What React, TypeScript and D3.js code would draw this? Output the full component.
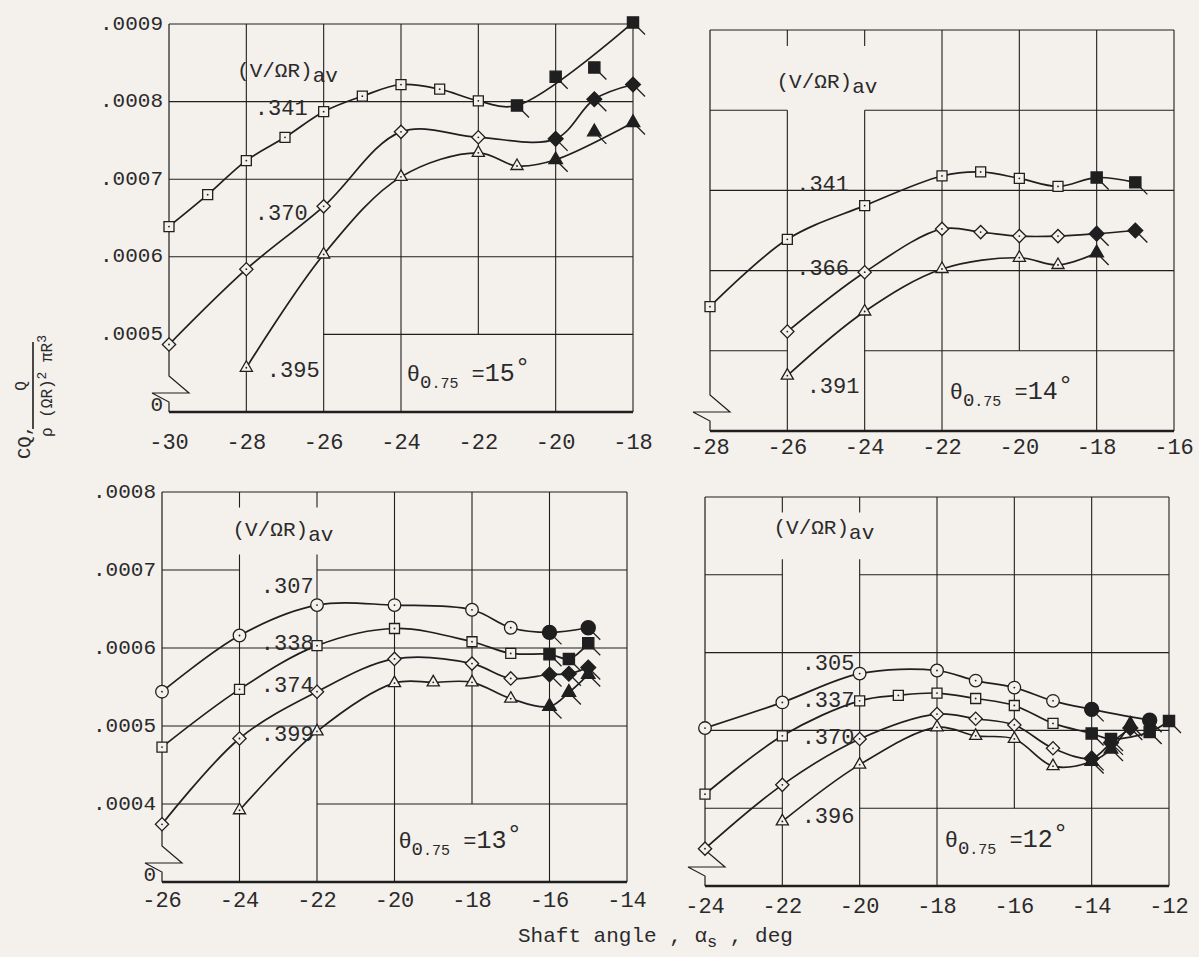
import React from 'react';
import * as d3 from 'd3';

type Pt = [number, number];

const FONT = "'Liberation Mono', 'DejaVu Sans Mono', monospace";
const BG = '#f4f0ec';
const INK = '#1f1f1f';
const TEXT = '#2a2a2a';

// ---------------- tick values / labels ----------------
const X_TICKS_15 = [-30, -28, -26, -24, -22, -20, -18];
const X_TICKS_14 = [-28, -26, -24, -22, -20, -18, -16];
const X_TICKS_13 = [-26, -24, -22, -20, -18, -16, -14];
const X_TICKS_12 = [-24, -22, -20, -18, -16, -14, -12];

const Y_TICKS_TOP = [0.0004, 0.0005, 0.0006, 0.0007, 0.0008, 0.0009];
const Y_LABELS_TOP = ['0', '.0005', '.0006', '.0007', '.0008', '.0009'];
const Y_TICKS_BOTTOM = [0.0003, 0.0004, 0.0005, 0.0006, 0.0007, 0.0008];
const Y_LABELS_BOTTOM = ['0', '.0004', '.0005', '.0006', '.0007', '.0008'];

// ---------------- data: theta 0.75 = 15 deg ----------------
const T15_V341: Pt[] = [[-30, 0.000639], [-29, 0.00068], [-28, 0.000724], [-27, 0.000754], [-26, 0.000787], [-25, 0.000807], [-24, 0.000822], [-23, 0.000816], [-22, 0.000801], [-21, 0.000795], [-20, 0.000832], [-19, 0.000844], [-18, 0.000902]];
const T15_V370: Pt[] = [[-30, 0.000487], [-28, 0.000584], [-26, 0.000665], [-24, 0.000761], [-22, 0.000754], [-20, 0.000752], [-19, 0.000803], [-18, 0.000822]];
const T15_V395: Pt[] = [[-28, 0.000457], [-26, 0.000603], [-24, 0.000703], [-22, 0.000734], [-21, 0.000717], [-20, 0.000725], [-19, 0.000761], [-18, 0.000773]];

// ---------------- data: theta 0.75 = 14 deg ----------------
const T14_V341: Pt[] = [[-28, 0.000555], [-26, 0.000639], [-24, 0.000681], [-22, 0.000718], [-21, 0.000723], [-20, 0.000715], [-19, 0.000705], [-18, 0.000716], [-17, 0.00071]];
const T14_V366: Pt[] = [[-26, 0.000524], [-24, 0.000598], [-22, 0.000652], [-21, 0.000648], [-20, 0.000643], [-19, 0.000643], [-18, 0.000646], [-17, 0.00065]];
const T14_V391: Pt[] = [[-26, 0.000469], [-24, 0.000549], [-22, 0.000602], [-20, 0.000616], [-19, 0.000607], [-18, 0.000622]];

// ---------------- data: theta 0.75 = 13 deg ----------------
const T13_V307: Pt[] = [[-26, 0.000544], [-24, 0.000616], [-22, 0.000655], [-20, 0.000655], [-18, 0.000649], [-17, 0.000626], [-16, 0.00062], [-15, 0.000626]];
const T13_V338: Pt[] = [[-26, 0.000473], [-24, 0.000547], [-22, 0.000603], [-20, 0.000625], [-18, 0.000608], [-17, 0.000593], [-16, 0.000592], [-15.5, 0.000586], [-15, 0.000606]];
const T13_V374: Pt[] = [[-26, 0.000374], [-24, 0.000484], [-22, 0.000544], [-20, 0.000586], [-18, 0.00058], [-17, 0.000561], [-16, 0.000566], [-15.5, 0.000567], [-15, 0.000575]];
const T13_V399: Pt[] = [[-24, 0.000392], [-22, 0.000493], [-20, 0.000555], [-19, 0.000556], [-18, 0.000556], [-17, 0.000535], [-16, 0.000525], [-15.5, 0.000543], [-15, 0.000566]];

// ---------------- data: theta 0.75 = 12 deg ----------------
const T12_V305: Pt[] = [[-24, 0.000503], [-22, 0.000536], [-20, 0.000573], [-18, 0.000577], [-17, 0.000564], [-16, 0.000555], [-15, 0.000538], [-14, 0.000527], [-12.5, 0.000513]];
const T12_V337: Pt[] = [[-24, 0.000418], [-22, 0.000493], [-20, 0.000538], [-19, 0.000545], [-18, 0.000548], [-17, 0.000541], [-16, 0.000532], [-15, 0.000509], [-14, 0.000496], [-13.5, 0.000489], [-12.5, 0.000498], [-12, 0.000512]];
const T12_V370: Pt[] = [[-24, 0.000348], [-22, 0.00043], [-20, 0.000489], [-18, 0.000521], [-17, 0.000515], [-16, 0.000507], [-15, 0.000477], [-14, 0.000464], [-13.5, 0.000484], [-13, 0.000503]];
const T12_V396: Pt[] = [[-22, 0.000383], [-20, 0.000456], [-18, 0.000504], [-17, 0.000493], [-16, 0.000489], [-15, 0.000454], [-14, 0.00046], [-13.5, 0.000476], [-13, 0.000508]];

type Shape = 'square' | 'diamond' | 'triangle' | 'circle';
interface Series { label: string; shape: Shape; pts: Pt[]; filledFrom: number; offCurve: number[] }
interface Span { at: number; spans: [number, number][] }
interface Panel {
  theta: string; xTicks: number[]; yTicks: number[]; yLabels: string[]; showY: boolean;
  box: { left: number; right: number; top: number; bottom: number }; xLabelY: number;
  series: Series[]; labelAt: Pt[]; titleAt: Pt; thetaAt: Pt;
  vSpans: Span[]; hSpans: Span[];
}

const PANELS: Panel[] = [
  {
    theta: '15', xTicks: X_TICKS_15, yTicks: Y_TICKS_TOP, yLabels: Y_LABELS_TOP, showY: true,
    box: { left: 169, right: 633, top: 24, bottom: 412 }, xLabelY: 443,
    series: [
      { label: '.341', shape: 'square', pts: T15_V341, filledFrom: -21, offCurve: [-20, -19] },
      { label: '.370', shape: 'diamond', pts: T15_V370, filledFrom: -20, offCurve: [] },
      { label: '.395', shape: 'triangle', pts: T15_V395, filledFrom: -20, offCurve: [-19] },
    ],
    labelAt: [[-27.78, 0.000783], [-27.78, 0.000647], [-27.47, 0.000445]],
    titleAt: [-28.24, 0.000832], thetaAt: [-23.85, 0.00044],
    vSpans: [{ at: -22, spans: [[0.0005, 0.0009]] }],
    hSpans: [{ at: 0.0005, spans: [[-26, -18]] }],
  },
  {
    theta: '14', xTicks: X_TICKS_14, yTicks: Y_TICKS_TOP, yLabels: Y_LABELS_TOP, showY: false,
    box: { left: 710, right: 1174, top: 30, bottom: 431 }, xLabelY: 448,
    series: [
      { label: '.341', shape: 'square', pts: T14_V341, filledFrom: -18, offCurve: [] },
      { label: '.366', shape: 'diamond', pts: T14_V366, filledFrom: -18, offCurve: [] },
      { label: '.391', shape: 'triangle', pts: T14_V391, filledFrom: -18, offCurve: [] },
    ],
    labelAt: [[-25.77, 0.000699], [-25.77, 0.000594], [-25.5, 0.000447]],
    titleAt: [-26.28, 0.000828], thetaAt: [-21.8, 0.00044],
    vSpans: [
      { at: -26, spans: [[0.00088, 0.0009], [0.0004, 0.0008]] },
      { at: -24, spans: [[0.00088, 0.0009], [0.0004, 0.0008]] },
      { at: -20, spans: [[0.0005, 0.0009]] },
    ],
    hSpans: [
      { at: 0.0008, spans: [[-28, -26], [-24, -16]] },
      { at: 0.0005, spans: [[-28, -26], [-24, -16]] },
    ],
  },
  {
    theta: '13', xTicks: X_TICKS_13, yTicks: Y_TICKS_BOTTOM, yLabels: Y_LABELS_BOTTOM, showY: true,
    box: { left: 162, right: 627, top: 492, bottom: 882 }, xLabelY: 901,
    series: [
      { label: '.307', shape: 'circle', pts: T13_V307, filledFrom: -16, offCurve: [] },
      { label: '.338', shape: 'square', pts: T13_V338, filledFrom: -16, offCurve: [] },
      { label: '.374', shape: 'diamond', pts: T13_V374, filledFrom: -16, offCurve: [] },
      { label: '.399', shape: 'triangle', pts: T13_V399, filledFrom: -16, offCurve: [] },
    ],
    labelAt: [[-23.45, 0.00067], [-23.45, 0.000597], [-23.45, 0.000544], [-23.45, 0.000481]],
    titleAt: [-24.18, 0.000744], thetaAt: [-19.9, 0.000343],
    vSpans: [
      { at: -24, spans: [[0.00078, 0.0008], [0.0003, 0.00072]] },
      { at: -22, spans: [[0.00078, 0.0008], [0.0003, 0.00072]] },
      { at: -18, spans: [[0.0004, 0.0008]] },
    ],
    hSpans: [
      { at: 0.0007, spans: [[-26, -24], [-22, -14]] },
      { at: 0.0004, spans: [[-26, -24], [-22, -14]] },
    ],
  },
  {
    theta: '12', xTicks: X_TICKS_12, yTicks: Y_TICKS_BOTTOM, yLabels: Y_LABELS_BOTTOM, showY: false,
    box: { left: 705, right: 1169, top: 497, bottom: 886 }, xLabelY: 907,
    series: [
      { label: '.305', shape: 'circle', pts: T12_V305, filledFrom: -14, offCurve: [] },
      { label: '.337', shape: 'square', pts: T12_V337, filledFrom: -14, offCurve: [] },
      { label: '.370', shape: 'diamond', pts: T12_V370, filledFrom: -14, offCurve: [] },
      { label: '.396', shape: 'triangle', pts: T12_V396, filledFrom: -14, offCurve: [] },
    ],
    labelAt: [[-21.5, 0.000577], [-21.5, 0.00053], [-21.5, 0.000483], [-21.5, 0.000381]],
    titleAt: [-22.23, 0.000752], thetaAt: [-17.8, 0.00035],
    vSpans: [
      { at: -22, spans: [[0.00078, 0.0008], [0.0003, 0.00072]] },
      { at: -20, spans: [[0.00078, 0.0008], [0.0003, 0.00072]] },
      { at: -16, spans: [[0.0004, 0.0008]] },
    ],
    hSpans: [
      { at: 0.0007, spans: [[-24, -22], [-20, -12]] },
      { at: 0.0004, spans: [[-24, -22], [-20, -12]] },
    ],
  },
];

const near = (a: number, b: number) => Math.abs(a - b) < 1e-9;

function Marker({ shape, cx, cy, filled }: { shape: Shape; cx: number; cy: number; filled: boolean }) {
  const big = filled ? 1.25 : 1;
  let d = '';
  let rot = 0;
  if (shape === 'square') d = d3.symbol(d3.symbolSquare, 100 * big)() as string;
  if (shape === 'diamond') { d = d3.symbol(d3.symbolSquare, 88 * big)() as string; rot = 45; }
  if (shape === 'triangle') d = d3.symbol(d3.symbolTriangle, 64 * big)() as string;
  if (shape === 'circle') d = d3.symbol(d3.symbolCircle, 125 * big)() as string;
  return (
    <g transform={`translate(${cx},${cy})`}>
      {filled && <line x1={0} y1={0} x2={12} y2={12} stroke={INK} strokeWidth={1.3} />}
      <path d={d} transform={rot ? `rotate(${rot})` : undefined} fill={filled ? INK : BG} stroke={INK} strokeWidth={1.3} />
      {!filled && <circle r={0.9} fill={INK} />}
    </g>
  );
}

function PanelView({ p }: { p: Panel }) {
  const xs = d3.scaleLinear().domain([p.xTicks[0], p.xTicks[p.xTicks.length - 1]]).range([p.box.left, p.box.right]);
  const ys = d3.scaleLinear().domain([p.yTicks[0], p.yTicks[p.yTicks.length - 1]]).range([p.box.bottom, p.box.top]);
  const yMin = p.yTicks[0];
  const yMax = p.yTicks[p.yTicks.length - 1];
  const xMin = p.xTicks[0];
  const xMax = p.xTicks[p.xTicks.length - 1];
  const L = p.box.left;
  const B = p.box.bottom;

  const gridLines: JSX.Element[] = [];
  p.xTicks.slice(1).forEach((xv, i) => {
    const o = p.vSpans.find((s) => near(s.at, xv));
    const spans: [number, number][] = o ? o.spans : [[yMin, yMax]];
    spans.forEach((s, j) => {
      gridLines.push(<line key={`v${i}-${j}`} x1={xs(xv)} x2={xs(xv)} y1={ys(s[0])} y2={ys(s[1])} stroke={INK} strokeWidth={1.1} />);
    });
  });
  p.yTicks.slice(1).forEach((yv, i) => {
    const o = p.hSpans.find((s) => near(s.at, yv));
    const spans: [number, number][] = o ? o.spans : [[xMin, xMax]];
    spans.forEach((s, j) => {
      gridLines.push(<line key={`h${i}-${j}`} x1={xs(s[0])} x2={xs(s[1])} y1={ys(yv)} y2={ys(yv)} stroke={INK} strokeWidth={1.1} />);
    });
  });

  const leftBorder = `M${L},${ys(yMax)} L${L},${B - 36} L${L + 20},${B - 19} L${L - 17},${B - 19} L${L},${B - 10} L${L},${B}`;

  const line = d3.line<Pt>().x((d) => xs(d[0])).y((d) => ys(d[1])).curve(d3.curveCatmullRom.alpha(0.5));

  return (
    <g>
      {gridLines}
      <path d={leftBorder} fill="none" stroke={INK} strokeWidth={1.2} />
      <line x1={L} x2={p.box.right} y1={B} y2={B} stroke={INK} strokeWidth={2.4} />
      {p.series.map((s, i) => (
        <path key={`c${i}`} d={line(s.pts.filter((d) => !s.offCurve.some((o) => near(o, d[0])))) || ''} fill="none" stroke={INK} strokeWidth={1.7} />
      ))}
      {p.series.map((s, i) => s.pts.map((d, j) => (
        <Marker key={`m${i}-${j}`} shape={s.shape} cx={xs(d[0])} cy={ys(d[1])} filled={d[0] >= s.filledFrom - 1e-9} />
      )))}
      {p.xTicks.map((t) => (
        <text key={`xt${t}`} x={xs(t)} y={p.xLabelY} textAnchor="middle" dominantBaseline="middle" fontFamily={FONT} fontSize={22} fill={TEXT}>{`-${Math.abs(t)}`}</text>
      ))}
      {p.showY && p.yTicks.map((t, i) => (
        <text key={`yt${i}`} x={L - 6} y={ys(t) + (i === 0 ? -7 : 0)} textAnchor="end" dominantBaseline="middle" fontFamily={FONT} fontSize={21} fill={TEXT}>{p.yLabels[i]}</text>
      ))}
      <text x={xs(p.titleAt[0])} y={ys(p.titleAt[1])} fontFamily={FONT} fontSize={21} fill={TEXT}>
        <tspan>(V/ΩR)</tspan><tspan dy={5}>av</tspan>
      </text>
      {p.series.map((s, i) => (
        <text key={`sl${i}`} x={xs(p.labelAt[i][0])} y={ys(p.labelAt[i][1])} fontFamily={FONT} fontSize={22} fill={TEXT}>{s.label}</text>
      ))}
      <text x={xs(p.thetaAt[0])} y={ys(p.thetaAt[1])} fontFamily={FONT} fontSize={22} fill={TEXT}>
        <tspan>θ</tspan>
        <tspan dy={7} fontSize={19}>0</tspan>
        <tspan fontSize={15}>.75</tspan>
        <tspan dy={-7} fontSize={22}> =</tspan>
        <tspan fontSize={25}>{p.theta}</tspan>
        <tspan dy={-6} fontSize={26}>°</tspan>
      </text>
    </g>
  );
}

export default function App() {
  return (
    <svg width={1199} height={957} style={{ position: 'absolute', left: 0, top: 0, display: 'block' }}>
      <rect x={0} y={0} width={1199} height={957} fill={BG} />
      {PANELS.map((p, i) => <PanelView key={i} p={p} />)}
      <g fontFamily={FONT} fill={TEXT}>
        <text transform="translate(30,442) rotate(-90)" textAnchor="middle" fontSize={19}>CQ,</text>
        <text transform="translate(26,386) rotate(-90)" textAnchor="middle" fontSize={16}>Q</text>
        <line x1={33} x2={33} y1={342} y2={429} stroke={INK} strokeWidth={1.6} />
        <text transform="translate(52,386) rotate(-90)" textAnchor="middle" fontSize={16}>
          <tspan>ρ (ΩR)</tspan><tspan dy={-6} fontSize={13}>2</tspan><tspan dy={6}> πR</tspan><tspan dy={-6} fontSize={13}>3</tspan>
        </text>
      </g>
      <text x={518} y={942} fontFamily={FONT} fontSize={21} fill={TEXT}>
        <tspan>Shaft angle , α</tspan><tspan dy={5} fontSize={17}>s</tspan><tspan dy={-5}> , deg</tspan>
      </text>
    </svg>
  );
}
